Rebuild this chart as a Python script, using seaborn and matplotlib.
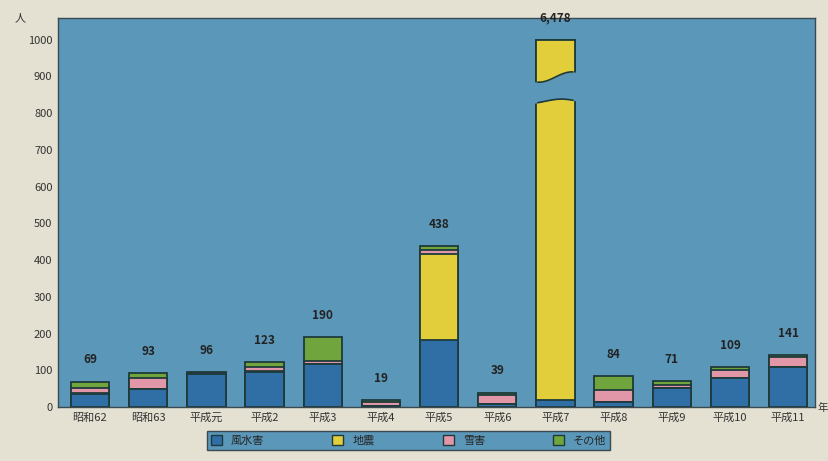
import matplotlib
matplotlib.use('Agg')
import matplotlib.pyplot as plt
import numpy as np
import pandas as pd
import seaborn as sns

# Data (persons)
years = ['昭和62', '昭和63', '平成元', '平成2', '平成3', '平成4', '平成5',
         '平成6', '平成7', '平成8', '平成9', '平成10', '平成11']
storm = [36, 48, 90, 96, 116, 3, 183, 8, 19, 13, 51, 80, 109]       # 風水害
quake = [2, 0, 0, 2, 0, 0, 234, 0, 6437, 0, 0, 0, 0]               # 地震
snow = [14, 32, 3, 10, 10, 12, 10, 25, 17, 33, 8, 22, 27]          # 雪害
other = [17, 13, 3, 15, 64, 4, 11, 6, 5, 38, 12, 7, 5]             # その他
totals = [69, 93, 96, 123, 190, 19, 438, 39, 6478, 84, 71, 109, 141]
series = ['風水害', '地震', '雪害', 'その他']
colors = ['#2f6fa6', '#e2cd3a', '#e197a8', '#6fa53c']

sns.set_style('white')
plt.rcParams['font.family'] = ['Noto Sans CJK JP', 'DejaVu Sans']

bg_fig = '#e4e1d2'
bg_ax = '#5b97b8'
edge = '#1f3a3a'
cap = 1000

df = pd.DataFrame({'year': years, '風水害': storm, '地震': quake, '雪害': snow, 'その他': other})
cum = df[series].cumsum(axis=1)

fig = plt.figure(figsize=(8.29, 4.61), dpi=100, facecolor=bg_fig)
ax = fig.add_axes([0.070, 0.117, 0.913, 0.845])
ax.set_facecolor(bg_ax)

# draw cumulative layers from top to bottom so each overlaps the one above
for name, col in zip(series[::-1], colors[::-1]):
    vals = np.minimum(cum[name].values, cap)
    sns.barplot(x=df['year'], y=vals, color=col, width=0.66, edgecolor=edge, linewidth=1.3,
                saturation=1, ax=ax, order=years)

ax.set_ylim(0, 1060)
ax.set_xlim(-0.55, len(years) - 0.54)
ax.set_yticks(range(0, 1001, 100))
ax.tick_params(axis='both', length=0, labelsize=8, colors='#333333', pad=4)
ax.set_xlabel('')
ax.set_ylabel('')
for s in ax.spines.values():
    s.set_color('#3a4a50')
    s.set_linewidth(1)

# break marks on the off-scale bar
i7 = years.index('平成7')
xx = np.linspace(i7 - 0.38, i7 + 0.38, 60)
upper = 898 + 14 * np.sin((xx - i7) * 5.5)
lower = 832 + 6 * np.sin((xx - i7) * 5.5 + 1)
ax.fill_between(xx, lower, upper, color=bg_ax, zorder=5, linewidth=0)
ax.plot(xx[6:-6], upper[6:-6], color=edge, lw=1.2, zorder=6)
ax.plot(xx[6:-6], lower[6:-6], color=edge, lw=1.2, zorder=6)

# total labels
for i, t in enumerate(totals):
    y = min(t, cap)
    ax.annotate(f'{t:,}', (i, y), xytext=(0, 11), textcoords='offset points',
                ha='center', va='bottom', fontsize=8.5, color='#222222', fontweight='bold')

fig.text(0.018, 0.955, '人', fontsize=8, color='#333333')
fig.text(0.986, 0.108, '年', fontsize=7.5, color='#333333', ha='left')

handles = [plt.Rectangle((0, 0), 1, 1, facecolor=c, edgecolor=edge, linewidth=1) for c in colors]
leg = fig.legend(handles, series, ncol=4, loc='lower left', mode='expand',
                 bbox_to_anchor=(0.243, 0.012, 0.5, 0.055), fontsize=8, frameon=True,
                 fancybox=False, handlelength=1.0, handleheight=1.0, borderpad=0.35)
leg.get_frame().set_facecolor(bg_ax)
leg.get_frame().set_edgecolor('#3a4a50')
leg.get_frame().set_alpha(1)

fig.savefig('out.png', dpi=100, facecolor=bg_fig)
